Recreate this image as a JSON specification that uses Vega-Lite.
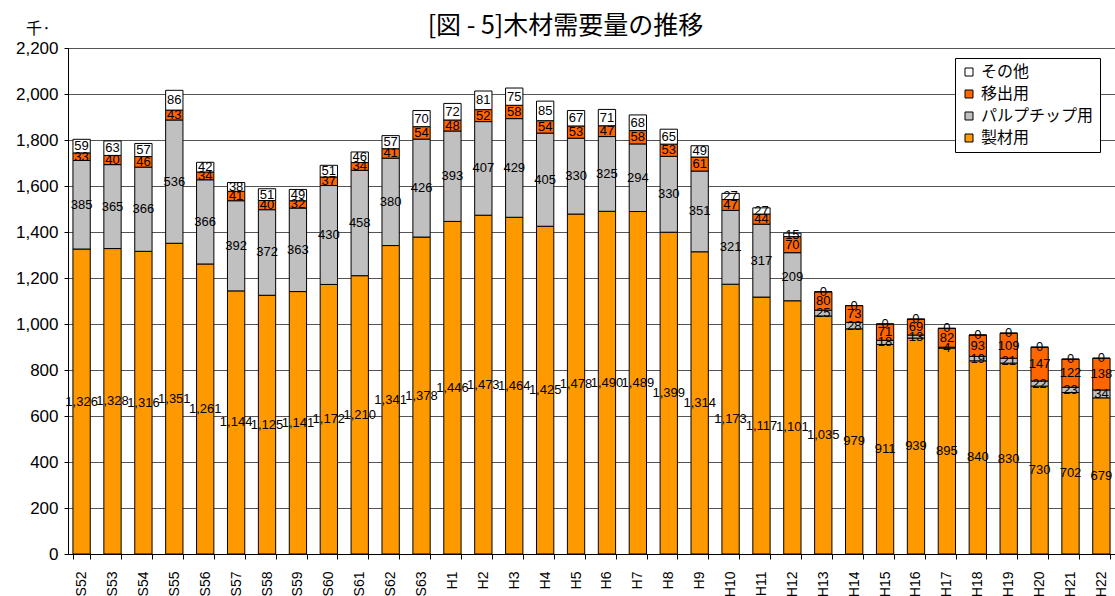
{
  "$schema": "https://vega.github.io/schema/vega-lite/v6.json",
  "width": 1047,
  "height": 506,
  "autosize": {"type": "none"},
  "padding": {"left": 68, "top": 48, "right": 0, "bottom": 42},
  "background": "white",
  "title": {"text": "[図 - 5]木材需要量の推移", "frame": "group", "font": "Noto Sans CJK JP", "fontSize": 25, "fontWeight": "normal", "color": "black", "anchor": "middle", "dx": -26, "offset": -19},
  "config": {"view": {"stroke": "#333", "strokeWidth": 1}},
  "data": {"values": [
    {"year":"S52","t":"製材用","o":1,"v":1326},{"year":"S52","t":"パルプチップ用","o":2,"v":385},{"year":"S52","t":"移出用","o":3,"v":33},{"year":"S52","t":"その他","o":4,"v":59},
    {"year":"S53","t":"製材用","o":1,"v":1328},{"year":"S53","t":"パルプチップ用","o":2,"v":365},{"year":"S53","t":"移出用","o":3,"v":40},{"year":"S53","t":"その他","o":4,"v":63},
    {"year":"S54","t":"製材用","o":1,"v":1316},{"year":"S54","t":"パルプチップ用","o":2,"v":366},{"year":"S54","t":"移出用","o":3,"v":46},{"year":"S54","t":"その他","o":4,"v":57},
    {"year":"S55","t":"製材用","o":1,"v":1351},{"year":"S55","t":"パルプチップ用","o":2,"v":536},{"year":"S55","t":"移出用","o":3,"v":43},{"year":"S55","t":"その他","o":4,"v":86},
    {"year":"S56","t":"製材用","o":1,"v":1261},{"year":"S56","t":"パルプチップ用","o":2,"v":366},{"year":"S56","t":"移出用","o":3,"v":34},{"year":"S56","t":"その他","o":4,"v":42},
    {"year":"S57","t":"製材用","o":1,"v":1144},{"year":"S57","t":"パルプチップ用","o":2,"v":392},{"year":"S57","t":"移出用","o":3,"v":41},{"year":"S57","t":"その他","o":4,"v":38},
    {"year":"S58","t":"製材用","o":1,"v":1125},{"year":"S58","t":"パルプチップ用","o":2,"v":372},{"year":"S58","t":"移出用","o":3,"v":40},{"year":"S58","t":"その他","o":4,"v":51},
    {"year":"S59","t":"製材用","o":1,"v":1141},{"year":"S59","t":"パルプチップ用","o":2,"v":363},{"year":"S59","t":"移出用","o":3,"v":32},{"year":"S59","t":"その他","o":4,"v":49},
    {"year":"S60","t":"製材用","o":1,"v":1172},{"year":"S60","t":"パルプチップ用","o":2,"v":430},{"year":"S60","t":"移出用","o":3,"v":37},{"year":"S60","t":"その他","o":4,"v":51},
    {"year":"S61","t":"製材用","o":1,"v":1210},{"year":"S61","t":"パルプチップ用","o":2,"v":458},{"year":"S61","t":"移出用","o":3,"v":34},{"year":"S61","t":"その他","o":4,"v":46},
    {"year":"S62","t":"製材用","o":1,"v":1341},{"year":"S62","t":"パルプチップ用","o":2,"v":380},{"year":"S62","t":"移出用","o":3,"v":41},{"year":"S62","t":"その他","o":4,"v":57},
    {"year":"S63","t":"製材用","o":1,"v":1378},{"year":"S63","t":"パルプチップ用","o":2,"v":426},{"year":"S63","t":"移出用","o":3,"v":54},{"year":"S63","t":"その他","o":4,"v":70},
    {"year":"H1","t":"製材用","o":1,"v":1446},{"year":"H1","t":"パルプチップ用","o":2,"v":393},{"year":"H1","t":"移出用","o":3,"v":48},{"year":"H1","t":"その他","o":4,"v":72},
    {"year":"H2","t":"製材用","o":1,"v":1473},{"year":"H2","t":"パルプチップ用","o":2,"v":407},{"year":"H2","t":"移出用","o":3,"v":52},{"year":"H2","t":"その他","o":4,"v":81},
    {"year":"H3","t":"製材用","o":1,"v":1464},{"year":"H3","t":"パルプチップ用","o":2,"v":429},{"year":"H3","t":"移出用","o":3,"v":58},{"year":"H3","t":"その他","o":4,"v":75},
    {"year":"H4","t":"製材用","o":1,"v":1425},{"year":"H4","t":"パルプチップ用","o":2,"v":405},{"year":"H4","t":"移出用","o":3,"v":54},{"year":"H4","t":"その他","o":4,"v":85},
    {"year":"H5","t":"製材用","o":1,"v":1478},{"year":"H5","t":"パルプチップ用","o":2,"v":330},{"year":"H5","t":"移出用","o":3,"v":53},{"year":"H5","t":"その他","o":4,"v":67},
    {"year":"H6","t":"製材用","o":1,"v":1490},{"year":"H6","t":"パルプチップ用","o":2,"v":325},{"year":"H6","t":"移出用","o":3,"v":47},{"year":"H6","t":"その他","o":4,"v":71},
    {"year":"H7","t":"製材用","o":1,"v":1489},{"year":"H7","t":"パルプチップ用","o":2,"v":294},{"year":"H7","t":"移出用","o":3,"v":58},{"year":"H7","t":"その他","o":4,"v":68},
    {"year":"H8","t":"製材用","o":1,"v":1399},{"year":"H8","t":"パルプチップ用","o":2,"v":330},{"year":"H8","t":"移出用","o":3,"v":53},{"year":"H8","t":"その他","o":4,"v":65},
    {"year":"H9","t":"製材用","o":1,"v":1314},{"year":"H9","t":"パルプチップ用","o":2,"v":351},{"year":"H9","t":"移出用","o":3,"v":61},{"year":"H9","t":"その他","o":4,"v":49},
    {"year":"H10","t":"製材用","o":1,"v":1173},{"year":"H10","t":"パルプチップ用","o":2,"v":321},{"year":"H10","t":"移出用","o":3,"v":47},{"year":"H10","t":"その他","o":4,"v":27},
    {"year":"H11","t":"製材用","o":1,"v":1117},{"year":"H11","t":"パルプチップ用","o":2,"v":317},{"year":"H11","t":"移出用","o":3,"v":44},{"year":"H11","t":"その他","o":4,"v":27},
    {"year":"H12","t":"製材用","o":1,"v":1101},{"year":"H12","t":"パルプチップ用","o":2,"v":209},{"year":"H12","t":"移出用","o":3,"v":70},{"year":"H12","t":"その他","o":4,"v":15},
    {"year":"H13","t":"製材用","o":1,"v":1035},{"year":"H13","t":"パルプチップ用","o":2,"v":25},{"year":"H13","t":"移出用","o":3,"v":80},{"year":"H13","t":"その他","o":4,"v":0},
    {"year":"H14","t":"製材用","o":1,"v":979},{"year":"H14","t":"パルプチップ用","o":2,"v":28},{"year":"H14","t":"移出用","o":3,"v":73},{"year":"H14","t":"その他","o":4,"v":0},
    {"year":"H15","t":"製材用","o":1,"v":911},{"year":"H15","t":"パルプチップ用","o":2,"v":18},{"year":"H15","t":"移出用","o":3,"v":71},{"year":"H15","t":"その他","o":4,"v":0},
    {"year":"H16","t":"製材用","o":1,"v":939},{"year":"H16","t":"パルプチップ用","o":2,"v":13},{"year":"H16","t":"移出用","o":3,"v":69},{"year":"H16","t":"その他","o":4,"v":0},
    {"year":"H17","t":"製材用","o":1,"v":895},{"year":"H17","t":"パルプチップ用","o":2,"v":4},{"year":"H17","t":"移出用","o":3,"v":82},{"year":"H17","t":"その他","o":4,"v":0},
    {"year":"H18","t":"製材用","o":1,"v":840},{"year":"H18","t":"パルプチップ用","o":2,"v":19},{"year":"H18","t":"移出用","o":3,"v":93},{"year":"H18","t":"その他","o":4,"v":0},
    {"year":"H19","t":"製材用","o":1,"v":830},{"year":"H19","t":"パルプチップ用","o":2,"v":21},{"year":"H19","t":"移出用","o":3,"v":109},{"year":"H19","t":"その他","o":4,"v":0},
    {"year":"H20","t":"製材用","o":1,"v":730},{"year":"H20","t":"パルプチップ用","o":2,"v":22},{"year":"H20","t":"移出用","o":3,"v":147},{"year":"H20","t":"その他","o":4,"v":0},
    {"year":"H21","t":"製材用","o":1,"v":702},{"year":"H21","t":"パルプチップ用","o":2,"v":23},{"year":"H21","t":"移出用","o":3,"v":122},{"year":"H21","t":"その他","o":4,"v":0},
    {"year":"H22","t":"製材用","o":1,"v":679},{"year":"H22","t":"パルプチップ用","o":2,"v":34},{"year":"H22","t":"移出用","o":3,"v":138},{"year":"H22","t":"その他","o":4,"v":0}
  ]},
  "encoding": {
    "x": {"field": "year", "type": "nominal", "sort": null,
      "scale": {"paddingInner": 0.44, "paddingOuter": 0.16},
      "axis": {"title": null, "labelAngle": 270, "labelFont": "Liberation Sans", "labelFontSize": 14, "labelColor": "black", "labelPadding": 12, "tickBand": "extent", "tickSize": 5, "tickColor": "black", "domainColor": "black"}}
  },
  "layer": [
    {
      "mark": {"type": "bar", "stroke": "black", "strokeWidth": 1},
      "encoding": {
        "y": {"field": "v", "type": "quantitative", "stack": "zero",
          "scale": {"domain": [0, 2200], "nice": false},
          "axis": {"values": [0,200,400,600,800,1000,1200,1400,1600,1800,2000,2200], "format": ",d", "labelFont": "Liberation Sans", "labelFontSize": 17, "labelColor": "black", "labelPadding": 6, "tickSize": 4, "tickColor": "black", "domainColor": "black", "gridColor": "#555", "gridOpacity": 1,
            "title": "千·", "titleAngle": 0, "titleX": -30, "titleY": -20, "titleAlign": "center", "titleBaseline": "middle", "titleFont": "Noto Sans CJK JP", "titleFontSize": 16, "titleFontWeight": "normal", "titleColor": "black"}},
        "color": {"field": "t", "type": "nominal",
          "scale": {"domain": ["その他", "移出用", "パルプチップ用", "製材用"], "range": ["#FFFFFF", "#FF6600", "#C0C0C0", "#FF9900"]},
          "legend": {"title": null, "orient": "none", "legendX": 887, "legendY": 10, "padding": 6, "strokeColor": "black", "fillColor": "white", "labelFont": "Noto Sans CJK JP", "labelFontSize": 16, "labelColor": "black", "symbolType": "square", "symbolSize": 64, "symbolStrokeColor": "black", "symbolStrokeWidth": 1, "rowPadding": 6}},
        "order": {"field": "o"}
      }
    },
    {
      "transform": [
        {"stack": "v", "groupby": ["year"], "sort": [{"field": "o"}], "as": ["v0", "v1"]},
        {"calculate": "(datum.v0 + datum.v1) / 2", "as": "mid"}
      ],
      "mark": {"type": "text", "font": "Liberation Sans", "fontSize": 13, "color": "black", "baseline": "middle"},
      "encoding": {
        "y": {"field": "mid", "type": "quantitative"},
        "text": {"field": "v", "type": "quantitative", "format": ",d"}
      }
    }
  ]
}
